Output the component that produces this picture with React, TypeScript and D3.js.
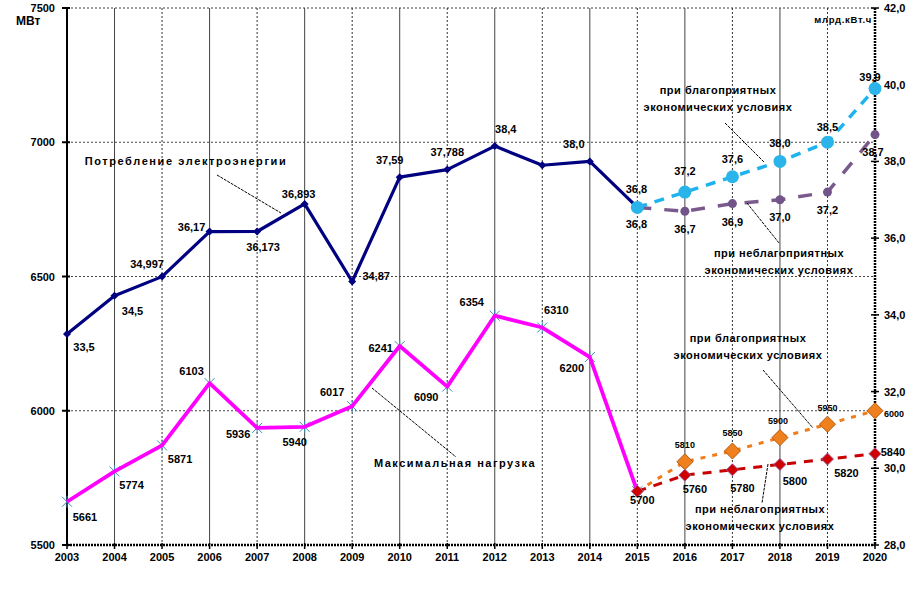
import React, { useEffect, useRef } from "react";
import * as d3 from "d3";

// --- data ---
const years = [2003, 2004, 2005, 2006, 2007, 2008, 2009, 2010, 2011, 2012, 2013, 2014, 2015, 2016, 2017, 2018, 2019, 2020];
const histYears = years.slice(0, 13);
const fcYears = years.slice(12);

// потребление, млрд.кВт.ч (right axis)
const consumption = [33.5, 34.5, 34.997, 36.17, 36.173, 36.893, 34.87, 37.59, 37.788, 38.4, 37.9, 38.0, 36.8];
const consFav = [36.8, 37.2, 37.6, 38.0, 38.5, 39.9];
const consUnfav = [36.8, 36.7, 36.9, 37.0, 37.2, 38.7];

// максимальная нагрузка, МВт (left axis)
const maxLoad = [5661, 5774, 5871, 6103, 5936, 5940, 6017, 6241, 6090, 6354, 6310, 6200, 5700];
const loadFav = [5700, 5810, 5850, 5900, 5950, 6000];
const loadUnfav = [5700, 5760, 5780, 5800, 5820, 5840];

const leftTicks = [5500, 6000, 6500, 7000, 7500];
const rightTicks = [28, 30, 32, 34, 36, 38, 40, 42];

// label offsets from the point (dx, dy); null = no label
const consLabelOff: ([number, number] | null)[] = [
  [17, 13], [18, 15], [-15, -13], [-18, -5], [6, 16], [-6, -10], [24, -5],
  [-10, -17], [0, -18], [11, -17], null, [-16, -17], [-1, -18],
];
const consFavOff: ([number, number] | null)[] = [null, [0, -21], [0, -18], [0, -18], [0, -15], [-5, -12]];
const consUnfavOff: ([number, number] | null)[] = [[-1, 17], [0, 18], [0, 18], [0, 17], [0, 18], [-2, 17]];
const loadLabelOff: [number, number][] = [
  [18, 15], [17, 14], [18, 14], [-18, -12], [-19, 6], [-10, 15], [-20, -14],
  [-19, 2], [-21, 10], [-23, -14], [14, -17], [-18, 11], [5, 9],
];
const loadFavOff: ([number, number] | null)[] = [null, [0, -17], [0, -18], [-2, -17], [0, -16], [19, 3]];
const loadUnfavOff: ([number, number] | null)[] = [null, [10, 14], [10, 18], [15, 17], [19, 14], [18, -2]];

const FONT = "'Liberation Sans', Arial, sans-serif";

const fmt = (v: number) => {
  const s = String(v);
  return (s.includes(".") ? s : v.toFixed(1)).replace(".", ",");
};

const App: React.FC = () => {
  const svgRef = useRef<SVGSVGElement>(null);

  useEffect(() => {
    document.body.style.margin = "0";
    if (!svgRef.current) return;
    const svg = d3.select(svgRef.current);
    svg.selectAll("*").remove();

    const x = d3.scaleLinear().domain([2003, 2020]).range([67, 875]);
    const yL = d3.scaleLinear().domain([5500, 7500]).range([545, 8]);
    const yR = d3.scaleLinear().domain([28, 42]).range([545, 8]);

    svg.append("rect").attr("width", 918).attr("height", 600).attr("fill", "#fff");

    // grid
    const grid = svg.append("g");
    leftTicks.slice(1).forEach(t => {
      grid.append("line")
        .attr("x1", x(2003)).attr("x2", x(2020))
        .attr("y1", yL(t)).attr("y2", yL(t))
        .attr("stroke", "#444").attr("stroke-width", 1).attr("stroke-dasharray", "2,2");
    });
    years.slice(1, -1).forEach((yr, i) => {
      grid.append("line")
        .attr("x1", x(yr)).attr("x2", x(yr))
        .attr("y1", yL(7500)).attr("y2", yL(5500))
        .attr("stroke", i % 2 === 0 ? "#444" : "#333")
        .attr("stroke-width", 1)
        .attr("stroke-dasharray", i % 2 === 0 ? null : "2,2");
    });

    // axes
    const ax = svg.append("g");
    ax.append("line").attr("x1", x(2003)).attr("x2", x(2003)).attr("y1", yL(7500)).attr("y2", yL(5500))
      .attr("stroke", "#000").attr("stroke-width", 2);
    ax.append("line").attr("x1", x(2003)).attr("x2", x(2020)).attr("y1", yL(5500)).attr("y2", yL(5500))
      .attr("stroke", "#000").attr("stroke-width", 2.5).attr("stroke-dasharray", "2,1");
    ax.append("line").attr("x1", x(2020)).attr("x2", x(2020)).attr("y1", yR(42)).attr("y2", yR(28))
      .attr("stroke", "#000").attr("stroke-width", 2.5).attr("stroke-dasharray", "2,1");

    leftTicks.forEach(t => {
      ax.append("line").attr("x1", x(2003) - 5).attr("x2", x(2003) + 3).attr("y1", yL(t)).attr("y2", yL(t))
        .attr("stroke", "#000").attr("stroke-width", 2);
      ax.append("text").attr("x", 55).attr("y", yL(t) + 4).attr("text-anchor", "end")
        .attr("font-family", FONT).attr("font-weight", "bold").attr("font-size", 11).text(t);
    });
    rightTicks.forEach(t => {
      ax.append("line").attr("x1", x(2020) - 4).attr("x2", x(2020) + 4).attr("y1", yR(t)).attr("y2", yR(t))
        .attr("stroke", "#000").attr("stroke-width", 1.5);
      ax.append("text").attr("x", x(2020) + 9).attr("y", yR(t) + 4)
        .attr("font-family", FONT).attr("font-weight", "bold").attr("font-size", 11).text(fmt(t));
    });
    years.forEach(yr => {
      ax.append("line").attr("x1", x(yr)).attr("x2", x(yr)).attr("y1", yL(5500) - 2).attr("y2", yL(5500) + 4)
        .attr("stroke", "#000").attr("stroke-width", 1.5);
      ax.append("text").attr("x", x(yr)).attr("y", 561).attr("text-anchor", "middle")
        .attr("font-family", FONT).attr("font-weight", "bold").attr("font-size", 11).text(yr);
    });
    ax.append("text").attr("x", 16).attr("y", 25).attr("font-family", FONT).attr("font-weight", "bold")
      .attr("font-size", 12).text("МВт");
    ax.append("text").attr("x", 872).attr("y", 23).attr("text-anchor", "end").attr("font-family", FONT)
      .attr("font-weight", "bold").attr("font-size", 9.5).attr("letter-spacing", 0.7).text("млрд.кВт.ч");

    const line = (yScale: d3.ScaleLinear<number, number>) =>
      d3.line<[number, number]>().x(d => x(d[0])).y(d => yScale(d[1]));

    const drawLine = (xs: number[], vs: number[], yScale: d3.ScaleLinear<number, number>,
      color: string, width: number, dash: string | null) => {
      svg.append("path")
        .datum(xs.map((yr, i) => [yr, vs[i]] as [number, number]))
        .attr("d", line(yScale))
        .attr("fill", "none").attr("stroke", color).attr("stroke-width", width)
        .attr("stroke-dasharray", dash).attr("stroke-linejoin", "round");
    };

    const diamond = (cx: number, cy: number, r: number) =>
      `M${cx},${cy - r}L${cx + r},${cy}L${cx},${cy + r}L${cx - r},${cy}Z`;

    const labels = (xs: number[], vs: number[], yScale: d3.ScaleLinear<number, number>,
      offs: ([number, number] | null)[], size: number, f: (v: number) => string) => {
      xs.forEach((yr, i) => {
        const o = offs[i];
        if (!o) return;
        svg.append("text")
          .attr("x", x(yr) + o[0]).attr("y", yScale(vs[i]) + o[1] + size * 0.36)
          .attr("text-anchor", "middle").attr("font-family", FONT).attr("font-weight", "bold")
          .attr("font-size", size).text(f(vs[i]));
      });
    };

    // --- max load (left axis) ---
    drawLine(fcYears, loadFav, yL, "#F07D1A", 3, "5,7");
    drawLine(fcYears, loadUnfav, yL, "#C80000", 3, "9,8");
    histYears.forEach((yr, i) => {
      const cx = x(yr), cy = yL(maxLoad[i]);
      svg.append("path")
        .attr("d", `M${cx - 5},${cy - 5}L${cx + 5},${cy + 5}M${cx - 5},${cy + 5}L${cx + 5},${cy - 5}M${cx},${cy - 6}L${cx},${cy + 6}`)
        .attr("stroke", "#3E8FB0").attr("stroke-width", 1);
    });
    drawLine(histYears, maxLoad, yL, "#FF00FF", 3.8, null);
    fcYears.slice(1).forEach((yr, i) => {
      svg.append("path").attr("d", diamond(x(yr), yL(loadFav[i + 1]), 8))
        .attr("fill", "#F0801E").attr("stroke", "#B05A10").attr("stroke-width", 1);
    });
    fcYears.forEach((yr, i) => {
      svg.append("path").attr("d", diamond(x(yr), yL(loadUnfav[i]), 6))
        .attr("fill", "#D00000").attr("stroke", "#9A5C9A").attr("stroke-width", 1);
    });

    // --- consumption (right axis) ---
    drawLine(fcYears, consUnfav, yR, "#7A5A8C", 3.5, "14,13");
    drawLine(fcYears, consFav, yR, "#1EB2EE", 3.5, "10,8");
    drawLine(histYears, consumption, yR, "#000080", 3.2, null);
    histYears.forEach((yr, i) => {
      svg.append("path").attr("d", diamond(x(yr), yR(consumption[i]), 4)).attr("fill", "#000080");
    });
    fcYears.slice(1).forEach((yr, i) => {
      svg.append("circle").attr("cx", x(yr)).attr("cy", yR(consUnfav[i + 1])).attr("r", 4.5)
        .attr("fill", "#72548A");
    });
    fcYears.forEach((yr, i) => {
      svg.append("circle").attr("cx", x(yr)).attr("cy", yR(consFav[i])).attr("r", 6.5)
        .attr("fill", "#2AB4EA");
    });

    // --- data labels ---
    labels(histYears, consumption, yR, consLabelOff, 11, fmt);
    labels(fcYears, consFav, yR, consFavOff, 11, v => fmt(v));
    labels(fcYears, consUnfav, yR, consUnfavOff, 11, v => fmt(v));
    labels(histYears, maxLoad, yL, loadLabelOff, 11, v => String(v));
    labels(fcYears, loadFav, yL, loadFavOff, 9, v => String(v));
    labels(fcYears, loadUnfav, yL, loadUnfavOff, 11, v => String(v));

    // --- annotations with leader lines ---
    const note = (lines: string[], cx: number, y0: number, lead: [number, number, number, number], ls: number) => {
      lines.forEach((t, i) => {
        svg.append("text").attr("x", cx).attr("y", y0 + i * 17).attr("text-anchor", "middle")
          .attr("font-family", FONT).attr("font-weight", "bold").attr("font-size", 11)
          .attr("letter-spacing", ls).text(t);
      });
      svg.append("line").attr("x1", lead[0]).attr("y1", lead[1]).attr("x2", lead[2]).attr("y2", lead[3])
        .attr("stroke", "#000").attr("stroke-width", 1).attr("stroke-dasharray", "3,1");
    };
    note(["Потребление электроэнергии"], 186, 165, [217, 175, 281, 213], 1.6);
    note(["при благоприятных", "экономических условиях"], 718, 94, [725, 123, 764, 162], 0.5);
    note(["при неблагоприятных", "экономических условиях"], 779, 257, [747, 203, 779, 243], 0.5);
    note(["Максимальная нагрузка"], 455, 467, [372, 388, 456, 457], 1.5);
    note(["при благоприятных", "экономических условиях"], 748, 342, [763, 370, 813, 428], 0.5);
    note(["при  неблагоприятных", "экономических условиях"], 760, 513, [768, 464, 762, 503], 0.5);
  }, []);

  return (
    <svg ref={svgRef} width={918} height={600}
      style={{ position: "absolute", left: 0, top: 0, display: "block" }} />
  );
};

export default App;
